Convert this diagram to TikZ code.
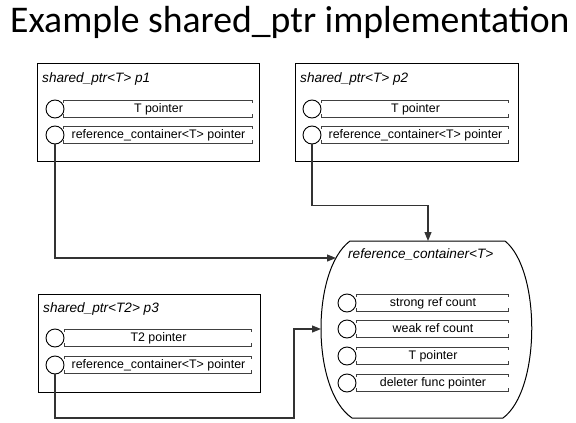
\documentclass[tikz,border=0pt]{standalone}
\usepackage{fontspec}
\setmainfont{Liberation Sans}
\newfontfamily\titlefont{Carlito}
\usetikzlibrary{arrows.meta}
\tikzset{
  box/.style={draw=black, line width=1pt, inner sep=0pt},
  port/.style={circle, draw=black, line width=0.9pt, minimum size=18pt, inner sep=0pt},
  fieldline/.style={draw=black!75, line width=1pt},
  fieldtext/.style={font=\fontsize{12.4}{14}\selectfont, inner sep=0pt, anchor=base},
  boxlabel/.style={font=\fontsize{13.6}{15}\selectfont\itshape, inner sep=0pt, anchor=base west},
  conn/.style={draw=black!80, line width=1.1pt},
  arr/.style={-{Triangle[length=9pt,width=7pt]}},
  container/.style={draw=black, line width=1pt},
}
\newcommand\fieldbox[5]{%
  \draw[fieldline] (#2,#4+3) -- (#2,#4) -- (#3,#4) -- (#3,#4+3);
  \draw[fieldline] (#2,#4+14) -- (#2,#4+17) -- (#3,#4+17) -- (#3,#4+14);
  \node[fieldtext] (#1) at ({(#2+#3)/2+1},#4+12.5) {#5};
}
\begin{document}
\begin{tikzpicture}[x=1pt,y=-1pt]
\useasboundingbox (0,0) rectangle (576,423);
\fill[white] (0,0) rectangle (576,423);

% title
\node[anchor=base west, inner sep=0pt, font=\titlefont\fontsize{37.7}{40}\selectfont] (title) at (10,32) {Example shared\_ptr implementation};

% p1
\node[box, anchor=north west, minimum width=222pt, minimum height=98pt] (p1) at (37,63) {};
\node[boxlabel] (p1l) at (42,82) {shared\_ptr<T> p1};
\fieldbox{p1f1}{63}{252}{100}{T pointer}
\fieldbox{p1f2}{63}{252}{126}{reference\_container<T> pointer}
\node[port] (p1a) at (55,109) {};
\node[port] (p1b) at (55,135) {};

% p2
\node[box, anchor=north west, minimum width=223pt, minimum height=98pt] (p2) at (295,63) {};
\node[boxlabel] (p2l) at (300,82) {shared\_ptr<T> p2};
\fieldbox{p2f1}{321}{508}{100}{T pointer}
\fieldbox{p2f2}{321}{508}{126}{reference\_container<T> pointer}
\node[port] (p2a) at (312,109) {};
\node[port] (p2b) at (312,135) {};

% p3
\node[box, anchor=north west, minimum width=222pt, minimum height=98pt] (p3) at (38,294) {};
\node[boxlabel] (p3l) at (43,312) {shared\_ptr<T2> p3};
\fieldbox{p3f1}{64}{251}{329}{T2 pointer}
\fieldbox{p3f2}{64}{251}{356}{reference\_container<T> pointer}
\node[port] (p3a) at (55,338) {};
\node[port] (p3b) at (55,365) {};

% reference container
\draw[container] (350,241) -- (505,241)
  .. controls (541,270) and (541,390) .. (503,418) -- (352,418)
  .. controls (311,390) and (311,270) .. (350,241) -- cycle;
\coordinate (rcin1) at (336,258);
\coordinate (rcin2) at (428,241);
\coordinate (rcin3) at (321,329);
\coordinate (c3corner) at (294,418);
\node[boxlabel] (rcl) at (348,258) {reference\_container<T>};
\fieldbox{rcf1}{356}{508}{294}{strong ref count}
\fieldbox{rcf2}{356}{508}{320}{weak ref count}
\fieldbox{rcf3}{356}{508}{347}{T pointer}
\fieldbox{rcf4}{356}{508}{374}{deleter func pointer}
\node[port] (rca) at (347,303) {};
\node[port] (rcb) at (347,329) {};
\node[port] (rcc) at (347,356) {};
\node[port] (rcd) at (347,383) {};

% connectors
\draw[conn,arr] (p1b.south) |- (rcin1);
\draw[conn,arr] (p2b.south) -- ++(0,61) -| (rcin2);
\draw[conn,arr] (p3b.south) |- (c3corner) |- (rcin3);
\end{tikzpicture}
\end{document}
